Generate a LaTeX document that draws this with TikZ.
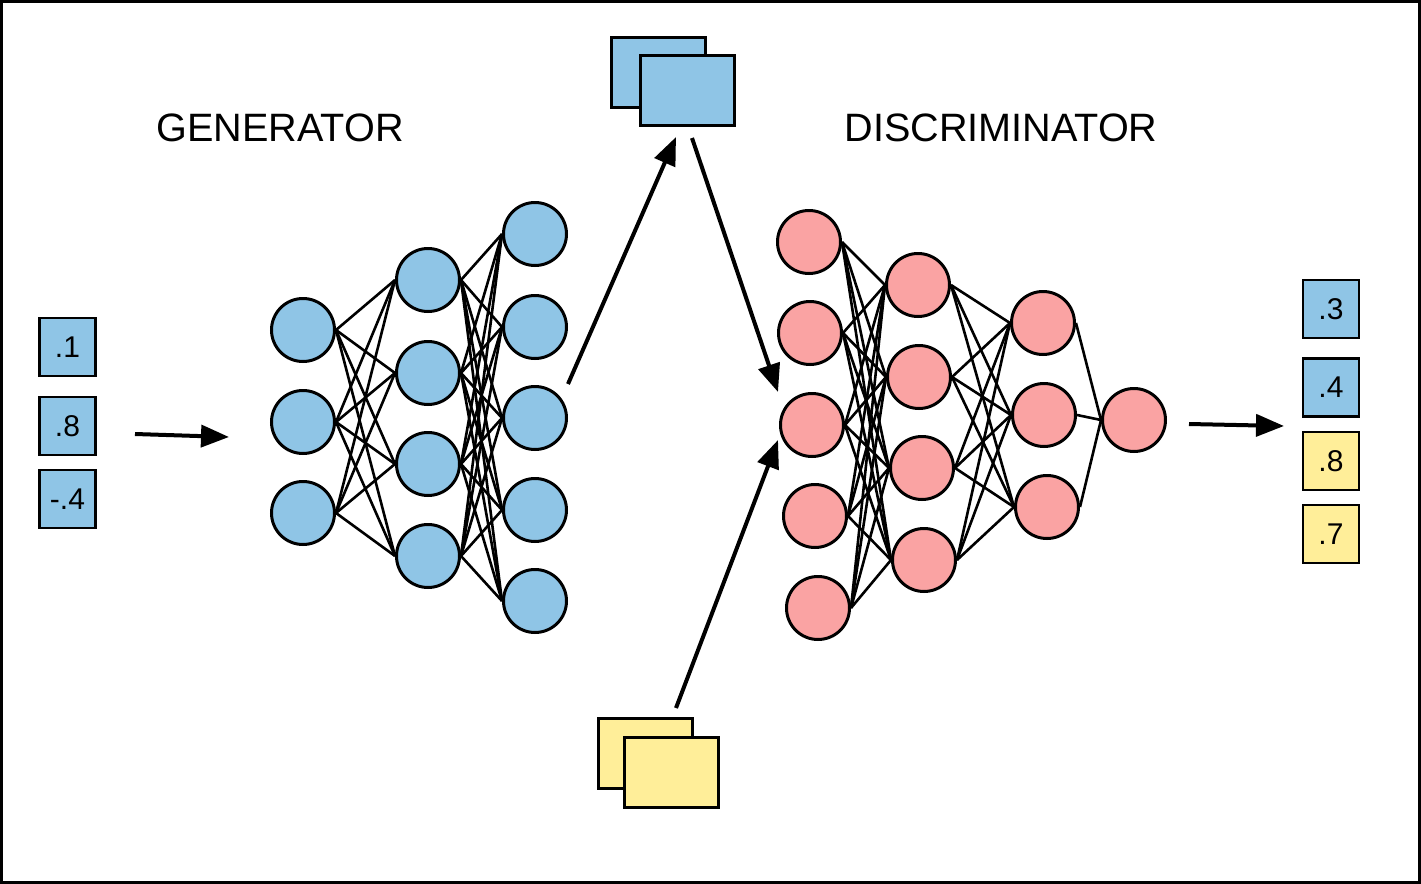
\documentclass[tikz,border=0pt]{standalone}
\usepackage{fontspec}
\setmainfont{Liberation Sans}
\usetikzlibrary{arrows.meta}
\definecolor{gblue}{RGB}{143,197,230}
\definecolor{dpink}{RGB}{250,163,163}
\definecolor{ryellow}{RGB}{255,238,153}
\begin{document}
\begin{tikzpicture}[x=0.5pt,y=-0.5pt,
  gn/.style={circle,draw=black,line width=1.5pt,fill=gblue,minimum size=31.5pt,inner sep=0pt},
  dn/.style={circle,draw=black,line width=1.5pt,fill=dpink,minimum size=31.5pt,inner sep=0pt},
  edge/.style={line width=1.3pt,black},
  valbox/.style={draw=black,line width=1.2pt,minimum width=28pt,minimum height=29pt,inner sep=0pt,font=\fontsize{15}{18}\selectfont},
  imgbox/.style={draw=black,line width=1.5pt,minimum width=47pt,minimum height=35pt,inner sep=0pt},
  bigarrow/.style={line width=2pt,-{Triangle[length=14pt,width=11pt]}},
  title/.style={font=\fontsize{19.8}{24}\selectfont}]
\useasboundingbox (0,0) rectangle (1421,884);
\draw[line width=1.5pt] (1.5,1.5) rectangle (1419.5,882.5);

% titles
\node[title] (gt) at (280,128) {GENERATOR};
\node[title] (dt) at (1001,128) {DISCRIMINATOR};

% generator
\foreach \y [count=\i] in {330,422,513} \coordinate (ga\i) at (303,\y);
\foreach \y [count=\i] in {280,373,464,556} \coordinate (gb\i) at (428,\y);
\foreach \y [count=\i] in {234,327,418,510,601} \coordinate (gc\i) at (535,\y);

\foreach \i in {1,2,3} \node[gn] (g1\i) at (ga\i) {};
\foreach \i in {1,...,4} \node[gn] (g2\i) at (gb\i) {};
\foreach \i in {1,...,5} \node[gn] (g3\i) at (gc\i) {};

\foreach \i in {1,2,3} \foreach \j in {1,...,4} \draw[edge] (g1\i.east) -- (g2\j.west);
\foreach \i in {1,...,4} \foreach \j in {1,...,5} \draw[edge] (g2\i.east) -- (g3\j.west);

% discriminator
\node[dn] (d11) at (809,242) {};
\node[dn] (d12) at (810,333) {};
\node[dn] (d13) at (812,425) {};
\node[dn] (d14) at (815,516) {};
\node[dn] (d15) at (818,608) {};
\node[dn] (d21) at (918,285) {};
\node[dn] (d22) at (919,377) {};
\node[dn] (d23) at (922,468) {};
\node[dn] (d24) at (924,560) {};
\node[dn] (d31) at (1043,323) {};
\node[dn] (d32) at (1044,415) {};
\node[dn] (d33) at (1047,507) {};
\node[dn] (d41) at (1134,420) {};
\foreach \i in {1,...,5} \foreach \j in {1,...,4} \draw[edge] (d1\i.east) -- (d2\j.west);
\foreach \i in {1,...,4} \foreach \j in {1,...,3} \draw[edge] (d2\i.east) -- (d3\j.west);
\foreach \i in {1,...,3} \draw[edge] (d3\i.east) -- (d41.west);

% input values
\node[valbox,fill=gblue] (i1) at (67.5,347) {.1};
\node[valbox,fill=gblue] (i2) at (67.5,426) {.8};
\node[valbox,fill=gblue] (i3) at (67.5,499) {-.4};
\coordinate (ia) at (135,434);
\coordinate (ib) at (229,437);
\draw[bigarrow] (ia) -- (ib);

% output values
\node[valbox,fill=gblue] (o1) at (1331,309) {.3};
\node[valbox,fill=gblue] (o2) at (1331,387.5) {.4};
\node[valbox,fill=ryellow] (o3) at (1331,461) {.8};
\node[valbox,fill=ryellow] (o4) at (1331,534) {.7};
\coordinate (oa) at (1189,424);
\coordinate (ob) at (1284,426);
\draw[bigarrow] (oa) -- (ob);

% generated images (top)
\node[imgbox,fill=gblue] (t1) at (658.5,72) {};
\node[imgbox,fill=gblue] (t2) at (687,90.5) {};
% real images (bottom)
\node[imgbox,fill=ryellow] (b1) at (645,753) {};
\node[imgbox,fill=ryellow] (b2) at (671.5,772) {};

% big arrows
\coordinate (gout) at (568,384);
\coordinate (ttip) at (676,137);
\coordinate (tout) at (692,138);
\coordinate (din1) at (778,392);
\coordinate (bout) at (676,708);
\coordinate (din2) at (778,440);
\draw[bigarrow] (gout) -- (ttip);
\draw[bigarrow] (tout) -- (din1);
\draw[bigarrow] (bout) -- (din2);
\end{tikzpicture}
\end{document}
